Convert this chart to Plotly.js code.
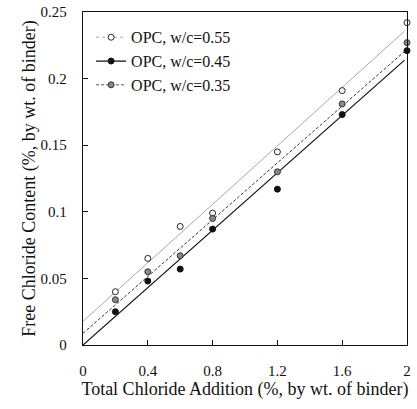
<!DOCTYPE html>
<html><head><meta charset="utf-8">
<script src="https://cdn.plot.ly/plotly-3.0.1.min.js"></script>
<style>html,body{margin:0;padding:0;background:#fff}</style>
</head><body>
<div id="chart" style="width:417px;height:409px"></div>
<script>
const xVals = [0.2, 0.4, 0.6, 0.8, 1.2, 1.6, 2.0];
const wc055 = [0.040, 0.065, 0.089, 0.099, 0.145, 0.191, 0.242];
const wc045 = [0.025, 0.048, 0.057, 0.087, 0.117, 0.173, 0.221];
const wc035 = [0.034, 0.055, 0.067, 0.095, 0.130, 0.181, 0.227];
const fitX = [0, 1.985];
const fit055 = [0.0178, 0.2357];
const fit045 = [0.0, 0.2139];
const fit035 = [0.0088, 0.2204];
const names = ['OPC, w/c=0.55', 'OPC, w/c=0.45', 'OPC, w/c=0.35'];

const ff = '"Liberation Serif", "Times New Roman", serif';
const styles = [
  {line:{color:'#a8a8a8', width:1, dash:'solid'}, legLine:{color:'#a8a8a8', width:1, dash:'dot'}, marker:{symbol:'circle', size:6, color:'#ffffff', line:{color:'#222', width:1}}},
  {line:{color:'#111', width:1.2, dash:'solid'}, legLine:{color:'#111', width:1.2, dash:'solid'}, marker:{symbol:'circle', size:6, color:'#111', line:{color:'#111', width:1}}},
  {line:{color:'#333', width:1, dash:'3px,2px'}, legLine:{color:'#555', width:1, dash:'3px,2px'}, marker:{symbol:'circle', size:6, color:'#888', line:{color:'#333', width:1}}}
];
const series = [wc055, wc045, wc035];
const fits = [fit055, fit045, fit035];
const traces = [];
for (let i = 0; i < 3; i++) {
  traces.push({x: fitX, y: fits[i], mode:'lines', line: styles[i].line, showlegend:false, hoverinfo:'skip'});
}
for (let i = 0; i < 3; i++) {
  traces.push({x: xVals, y: series[i], mode:'markers', marker: styles[i].marker, showlegend:false, cliponaxis:false});
}
for (let i = 0; i < 3; i++) {
  traces.push({x:[null], y:[null], mode:'lines+markers', name:names[i], line: styles[i].legLine, marker: styles[i].marker});
}

const layout = {
  width:417, height:409,
  margin:{l:83, r:10, t:12, b:64},
  paper_bgcolor:'#fff', plot_bgcolor:'#fff',
  font:{family:ff, size:15, color:'#111'},
  showlegend:true,
  legend:{x:0.025, y:0.975, xanchor:'left', yanchor:'top', bgcolor:'rgba(0,0,0,0)', borderwidth:0,
          font:{family:ff, size:16, color:'#111'}, itemwidth:30, tracegroupgap:0},
  xaxis:{range:[0,2], tickvals:[0,0.4,0.8,1.2,1.6,2], ticktext:['0','0.4','0.8','1.2','1.6','2'],
         ticks:'inside', ticklen:5, tickwidth:1.2, tickcolor:'#111', showgrid:false, zeroline:false,
         showline:true, linecolor:'#111', linewidth:1.2, mirror:true, ticklabelstandoff:12,
         tickfont:{family:ff, size:15},
         title:{text:'Total Chloride Addition (%, by wt. of binder)', font:{family:ff, size:18}, standoff:4}},
  yaxis:{range:[0,0.25], tickvals:[0,0.05,0.1,0.15,0.2,0.25], ticktext:['0','0.05','0.1','0.15','0.2','0.25'],
         ticks:'inside', ticklen:5, tickwidth:1.2, tickcolor:'#111', showgrid:false, zeroline:false,
         showline:true, linecolor:'#111', linewidth:1.2, mirror:true, ticklabelstandoff:12,
         tickfont:{family:ff, size:15},
         title:{text:'Free Chloride Content (%, by wt. of binder)', font:{family:ff, size:18}, standoff:0}}
};
Plotly.newPlot('chart', traces, layout, {displayModeBar:false, staticPlot:true});
</script>
</body></html>
